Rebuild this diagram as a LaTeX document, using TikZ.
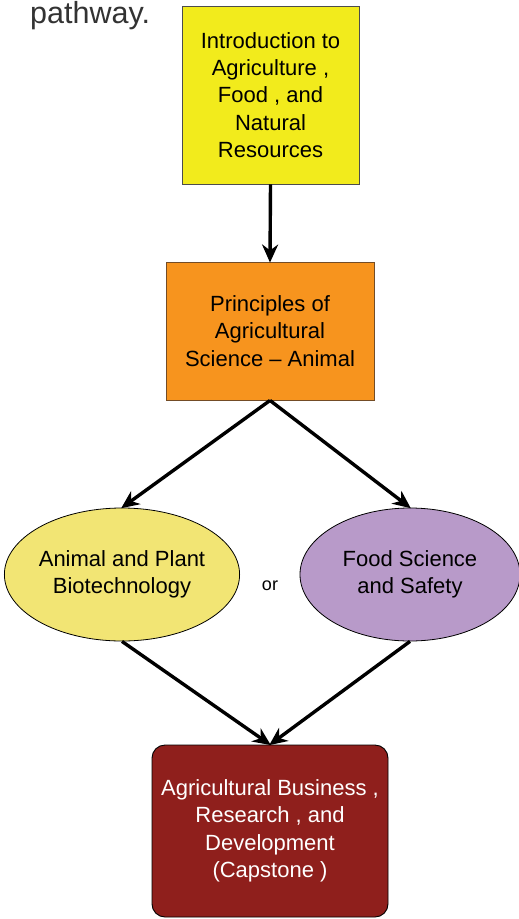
\documentclass[tikz,border=0pt]{standalone}
\usepackage{fontspec}
\setmainfont{Liberation Sans}
\usetikzlibrary{shapes.geometric,arrows.meta}
\definecolor{cyellow}{HTML}{F2EB1C}
\definecolor{corange}{HTML}{F7941E}
\definecolor{cellyellow}{HTML}{F2E574}
\definecolor{cpurple}{HTML}{B89AC9}
\definecolor{cred}{HTML}{8F1F1C}
\definecolor{ctitle}{HTML}{333333}
\tikzset{
  lbl/.style={font=\fontsize{22}{27.4}\selectfont, align=center, text=black},
  boxnode/.style={lbl, draw=black!70, line width=0.9pt, inner sep=0pt},
  ellnode/.style={lbl, ellipse, draw=black, line width=0.8pt, inner sep=0pt},
  conn/.style={line width=3.4pt, -{Stealth[length=18pt,width=16pt]}, shorten >=-1pt}
}
\begin{document}
\begin{tikzpicture}[x=1pt,y=-1pt]
\useasboundingbox (0,0) rectangle (519,919);
\clip (0,0) rectangle (519,919);
\node[anchor=base west, font=\fontsize{30.5}{36}\selectfont, text=ctitle, inner sep=0pt] (title) at (30,23.5) {pathway.};
\node[boxnode, fill=cyellow, minimum width=177pt, minimum height=178pt] (intro) at (270.5,95) {Introduction to\\Agriculture ,\\Food , and\\Natural\\Resources};
\node[boxnode, fill=corange, draw=brown!60!black, minimum width=208pt, minimum height=138pt] (princ) at (270,331) {Principles of\\Agricultural\\Science -- Animal};
\node[ellnode, fill=cellyellow, minimum width=226pt, minimum height=133pt] (biotech) at (122,574.5) {Animal and Plant\\Biotechnology};
\node[ellnode, fill=cpurple, minimum width=220pt, minimum height=133pt] (food) at (410,574.5) {Food Science\\and Safety};
\node[font=\fontsize{18}{22}\selectfont, text=black] (or) at (270,586) {or};
\node[boxnode, fill=cred, draw=black, rounded corners=13pt, text=white, minimum width=236pt, minimum height=172pt] (cap) at (270,831) {Agricultural Business ,\\Research , and\\Development\\(Capstone )};
\draw[conn] (intro.south) -- (princ.north);
\draw[conn] (princ.south) -- (biotech.north);
\draw[conn] (princ.south) -- (food.north);
\draw[conn] (biotech.south) -- (cap.north);
\draw[conn] (food.south) -- (cap.north);
\end{tikzpicture}
\end{document}
